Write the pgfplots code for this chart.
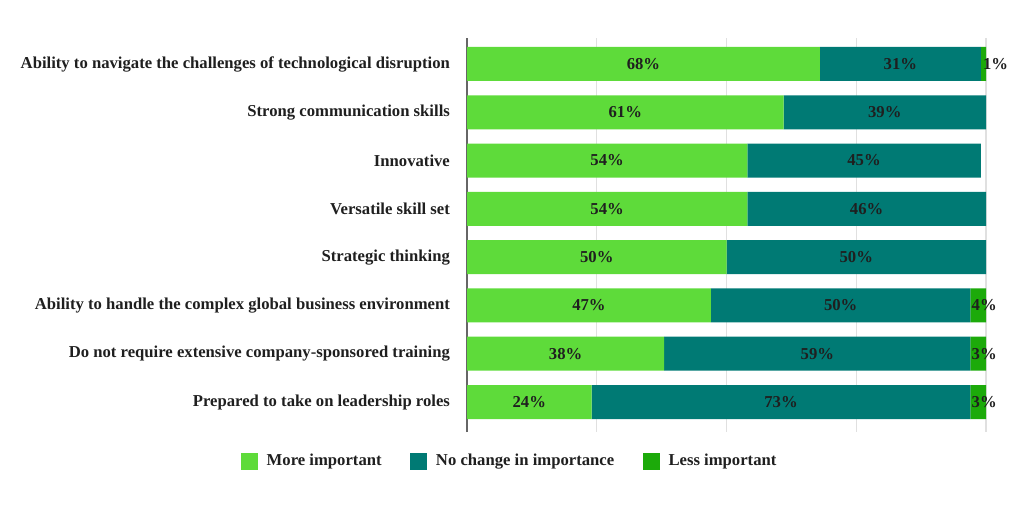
\documentclass[border=0pt]{standalone}
\usepackage{pgfplots}
\pgfplotsset{compat=1.18}
\usepackage{fontspec}
\setmainfont{Liberation Serif}

\definecolor{moreimp}{HTML}{5EDB3A}
\definecolor{nochange}{HTML}{007A74}
\definecolor{lessimp}{HTML}{1CAA0A}
\definecolor{labelc}{HTML}{1F1F1F}
\newcommand{\chartfont}{\fontsize{12.5}{15}\selectfont\bfseries}

% shared geometry of the bar axis and the label overlay
\pgfplotsset{
  skillaxis/.style={
    scale only axis, width=389.25pt, height=295.5pt,
    xmin=0, xmax=100, ymin=0.379, ymax=8.538,
    at={(350.25pt,60pt)}, anchor=south west,
  },
}

\begin{document}
\begin{tikzpicture}
\useasboundingbox (0,0) rectangle (768pt,384pt);
\begin{axis}[
  skillaxis,
  xbar stacked, bar width=25.5pt,
  axis lines*=left,
  x axis line style={draw=none},
  y axis line style={draw=black!60, line width=0.9pt},
  xtick={0,25,50,75,100}, xticklabels={},
  xmajorgrids, grid style={black!12, line width=0.8pt},
  ytick={1,...,8},
  yticklabels={Prepared to take on leadership roles,
    Do not require extensive company-sponsored training,
    Ability to handle the complex global business environment,
    Strategic thinking, Versatile skill set, Innovative,
    Strong communication skills,
    Ability to navigate the challenges of technological disruption},
  major tick length=0pt,
  yticklabel style={font=\chartfont, text=labelc, xshift=-9.3pt},
  legend style={at={(rel axis cs:0.083,-0.074)}, anchor=center,
    draw=none, fill=none, legend columns=3, inner sep=0pt,
    font=\chartfont, text=labelc,
    /tikz/every odd column/.append style={column sep=4.5pt},
    /tikz/every even column/.append style={column sep=19.5pt}},
  legend cell align=left,
  legend image code/.code={\fill[#1] (0pt,-6.4pt) rectangle (12.75pt,6.4pt);},
]
\addplot[fill=moreimp, draw=none] coordinates {
  (68,8) (61,7) (54,6) (54,5) (50,4) (47,3) (38,2) (24,1)};
\addplot[fill=nochange, draw=none] coordinates {
  (31,8) (39,7) (45,6) (46,5) (50,4) (50,3) (59,2) (73,1)};
\addplot[fill=lessimp, draw=none] coordinates {
  (1,8) (0,7) (0,6) (0,5) (0,4) (3,3) (3,2) (3,1)};
\legend{More important, No change in importance, Less important}
\end{axis}

% value labels
\begin{axis}[
  skillaxis, hide axis, clip=false,
  nodes near coords, point meta=explicit symbolic,
  nodes near coords style={font=\chartfont, text=labelc},
]
\addplot[draw=none, mark=none, nodes near coords style={anchor=center}] coordinates {
  (34,8) [68\%] (30.5,7) [61\%] (27,6) [54\%] (27,5) [54\%]
  (25,4) [50\%] (23.5,3) [47\%] (19,2) [38\%] (12,1) [24\%]};
\addplot[draw=none, mark=none, nodes near coords style={anchor=center}] coordinates {
  (83.5,8) [31\%] (80.5,7) [39\%] (76.5,6) [45\%] (77,5) [46\%]
  (75,4) [50\%] (72,3) [50\%] (67.5,2) [59\%] (60.5,1) [73\%]};
\addplot[draw=none, mark=none, nodes near coords style={anchor=west, inner sep=0pt}] coordinates {
  (99.4,8) [1\%] (97.2,3) [4\%] (97.2,2) [3\%] (97.2,1) [3\%]};
\end{axis}
\end{tikzpicture}
\end{document}
